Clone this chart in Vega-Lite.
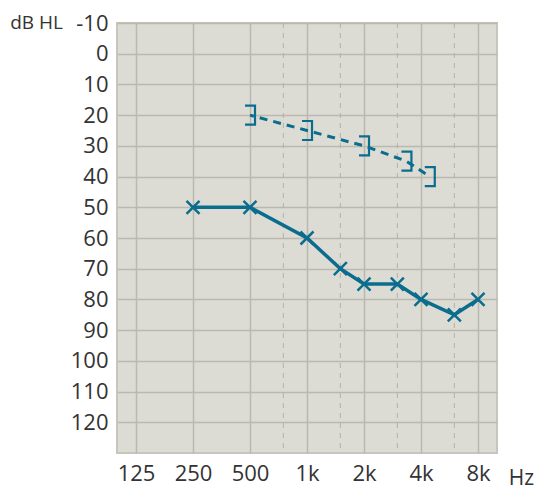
{
  "$schema": "https://vega.github.io/schema/vega-lite/v6.json",
  "autosize": "none",
  "width": 380,
  "height": 430,
  "padding": {"left": 117, "top": 23, "right": 44, "bottom": 34},
  "background": "white",
  "datasets": {
    "air": [
      {"freq": 250, "db": 50},
      {"freq": 500, "db": 50},
      {"freq": 1000, "db": 60},
      {"freq": 1500, "db": 70},
      {"freq": 2000, "db": 75},
      {"freq": 3000, "db": 75},
      {"freq": 4000, "db": 80},
      {"freq": 6000, "db": 85},
      {"freq": 8000, "db": 80}
    ],
    "bone": [
      {"freq": 500, "db": 20},
      {"freq": 1000, "db": 25},
      {"freq": 2000, "db": 30},
      {"freq": 3350, "db": 35},
      {"freq": 4450, "db": 40}
    ],
    "mid": [
      {"freq": 750},
      {"freq": 1500},
      {"freq": 3000},
      {"freq": 6000}
    ]
  },
  "layer": [
    {
      "data": {"name": "mid"},
      "mark": {"type": "rule", "color": "#b2b2a9", "strokeWidth": 1, "strokeDash": [5, 5]},
      "encoding": {
        "x": {
          "field": "freq", "type": "quantitative",
          "scale": {"type": "log", "domain": [99.2, 10079], "nice": false},
          "axis": {
            "values": [125, 250, 500, 1000, 2000, 4000, 8000],
            "labelExpr": "datum.value >= 1000 ? (datum.value / 1000) + 'k' : datum.value + ''",
            "labelPadding": 10,
            "title": "Hz", "titleFontSize": 21,
            "titleAlign": "center", "titleBaseline": "middle",
            "titleX": 404, "titleY": 25
          }
        }
      }
    },
    {
      "encoding": {
        "x": {"field": "freq", "type": "quantitative"},
        "y": {
          "field": "db", "type": "quantitative",
          "scale": {"domain": [-10, 130], "reverse": true, "nice": false, "zero": false},
          "axis": {
            "values": [-10, 0, 10, 20, 30, 40, 50, 60, 70, 80, 90, 100, 110, 120],
            "labelExpr": "datum.value + ''",
            "labelOverlap": false,
            "labelSeparation": -30,
            "labelPadding": 9,
            "title": "dB HL", "titleFontSize": 19,
            "titleAngle": 0, "titleAlign": "center", "titleBaseline": "middle",
            "titleX": -81, "titleY": -1
          }
        }
      },
      "layer": [
        {
          "data": {"name": "bone"},
          "mark": {"type": "line", "color": "#0b6d8e", "strokeWidth": 3, "strokeDash": [8, 6], "strokeDashOffset": -10}
        },
        {
          "data": {"name": "bone"},
          "mark": {"type": "point", "shape": "M -1 -1.9 H 1 V 1.9 H -1", "size": 100, "filled": false, "color": "#0b6d8e", "strokeWidth": 2.2, "opacity": 1}
        },
        {
          "data": {"name": "air"},
          "mark": {"type": "line", "color": "#0b6d8e", "strokeWidth": 3.5}
        },
        {
          "data": {"name": "air"},
          "mark": {"type": "point", "shape": "M -1 -1 L 1 1 M -1 1 L 1 -1", "size": 169, "filled": false, "color": "#0b6d8e", "strokeWidth": 2.5, "opacity": 1}
        }
      ]
    }
  ],
  "config": {
    "view": {"fill": "#dcdcd5", "stroke": "#c6c6bc", "strokeWidth": 2},
    "axis": {
      "labelOverlap": false,
      "labelFlush": false,
      "labelBound": false,
      "grid": true, "gridColor": "#b9b9af", "gridWidth": 1.5,
      "ticks": false, "domain": false,
      "labelFont": "Open Sans", "labelFontSize": 22, "labelColor": "#333333",
      "titleFont": "Open Sans", "titleFontWeight": "normal", "titleColor": "#333333"
    }
  }
}
